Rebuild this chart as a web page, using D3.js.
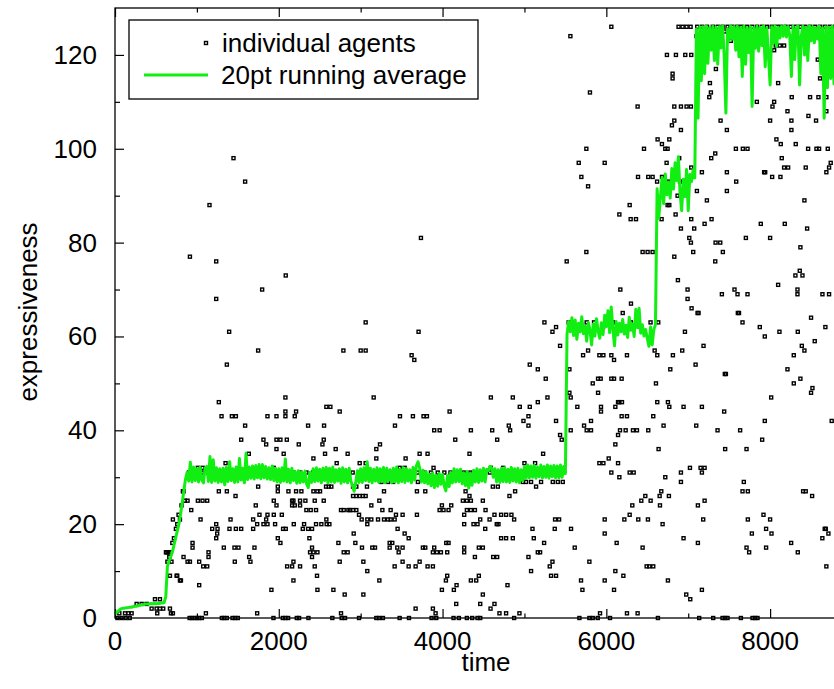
<!DOCTYPE html>
<html lang="en">
<head>
<meta charset="UTF-8">
<title>expressiveness over time</title>
<script src="https://d3js.org/d3.v7.min.js"></script>
<style>
    body { margin: 0; background: #fff; }
    text { font-family: "Liberation Sans", Arial, Helvetica, sans-serif; fill: #000; }
    .frame { fill: none; stroke: #000; stroke-width: 1.3; }
    .agent { fill: none; stroke: #000; stroke-width: 1.4; }
    .avg { fill: none; stroke: #11ee11; stroke-width: 3; stroke-linejoin: round; }
    .tick line { stroke: #000; stroke-width: 1.2; }
</style>
</head>
<body>
<svg id="chart" width="834" height="689"></svg>
<script>
// axis ticks
const xMajor = [0, 2000, 4000, 6000, 8000];
const xMinor = [1000, 3000, 5000, 7000, 9000];
const yMajor = [0, 20, 40, 60, 80, 100, 120];
const yMinor = [10, 30, 50, 70, 90, 110];

// 20pt running average, one value every avgStep time units starting at 0
const avgStep = 20;
const avgValues = [
    0.8, 1.2, 1.5, 1.8, 2.0, 2.1, 2.1, 2.2, 2.2, 2.3,
    2.3, 2.4, 2.5, 2.5, 2.6, 2.7, 2.8, 2.8, 2.9, 3.0,
    3.0, 3.0, 3.1, 3.0, 3.1, 3.0, 3.1, 3.1, 3.2, 3.2,
    3.3, 4.5, 11.0, 12.2, 13.0, 14.0, 15.5, 17.0, 18.5, 20.0,
    22.0, 24.5, 27.0, 29.5, 31.0, 29.2, 33.2, 29.0, 32.2, 29.3,
    31.8, 29.0, 32.1, 29.4, 28.8, 31.9, 32.3, 29.1, 34.4, 28.9,
    33.7, 29.2, 32.0, 28.9, 31.8, 29.0, 31.9, 28.4, 32.1, 29.1,
    33.3, 29.3, 31.8, 28.9, 32.2, 29.0, 34.0, 29.4, 31.9, 28.8,
    35.1, 29.5, 32.2, 29.8, 32.4, 29.6, 32.5, 29.9, 32.7, 29.7,
    32.7, 29.9, 32.3, 29.6, 32.0, 29.5, 32.4, 29.3, 31.9, 29.0,
    31.8, 28.9, 32.0, 29.2, 33.9, 29.0, 31.7, 28.8, 31.9, 29.3,
    31.2, 28.7, 31.4, 28.8, 31.1, 29.0, 31.3, 28.6, 27.8, 31.0,
    28.9, 31.8, 29.1, 32.0, 29.2, 31.7, 28.8, 31.9, 29.3, 32.1,
    28.8, 31.9, 29.0, 32.2, 28.9, 31.6, 29.2, 31.8, 28.7, 32.0,
    29.0, 31.7, 28.8, 31.9, 29.2, 28.2, 27.0, 29.0, 31.4, 28.9,
    31.8, 28.9, 32.0, 29.3, 33.3, 29.1, 31.9, 28.8, 31.7, 29.2,
    32.0, 28.9, 31.8, 29.1, 32.1, 28.8, 31.9, 29.3, 31.6, 28.9,
    31.9, 29.0, 32.2, 28.8, 31.7, 29.1, 32.0, 28.9, 31.8, 29.2,
    31.6, 28.8, 32.1, 29.4, 32.4, 33.3, 32.0, 29.0, 31.5, 28.8,
    31.2, 28.6, 30.6, 28.2, 30.9, 27.8, 30.4, 28.1, 30.8, 28.5,
    30.6, 28.2, 27.1, 30.3, 28.0, 31.0, 28.8, 31.8, 29.0, 31.6,
    29.1, 31.7, 28.6, 30.9, 28.2, 31.2, 27.7, 30.8, 28.3, 31.5,
    29.0, 31.8, 28.9, 31.6, 29.2, 31.9, 29.0, 31.7, 31.4, 32.3,
    32.0, 30.0, 31.8, 29.0, 31.6, 28.9, 31.9, 29.1, 32.0, 29.0,
    31.7, 28.9, 32.1, 29.2, 31.8, 29.0, 31.9, 28.8, 31.6, 29.3,
    32.3, 29.8, 32.6, 29.9, 32.4, 30.0, 32.5, 29.8, 32.2, 30.1,
    32.6, 29.9, 32.3, 30.0, 32.6, 29.8, 32.4, 30.1, 32.5, 29.9,
    32.4, 29.9, 32.6, 30.0, 32.3, 30.8, 60.5, 63.2, 61.0, 64.0,
    60.2, 63.5, 59.4, 62.8, 61.0, 64.2, 60.6, 62.2, 59.0, 63.0,
    61.4, 58.2, 62.6, 60.1, 63.8, 61.2, 59.6, 62.9, 60.4, 64.5,
    62.1, 65.5, 60.8, 66.3, 61.5, 58.0, 63.2, 60.3, 62.8, 61.0,
    63.6, 60.5, 62.4, 59.8, 64.1, 61.3, 62.7, 60.0, 65.8, 61.9,
    66.0, 60.7, 62.5, 60.1, 61.5, 59.6, 57.9, 62.0, 58.2, 61.5,
    62.5, 91.5, 85.2, 89.6, 93.8, 88.3, 94.6, 90.2, 92.8, 89.5,
    95.8, 91.4, 97.0, 93.2, 98.3, 90.6, 86.8, 93.5, 89.8, 95.6,
    86.8, 94.5, 93.0, 95.5, 93.8, 125.5, 106.5, 126.0, 114.5, 126.0,
    116.0, 126.2, 118.2, 125.8, 121.0, 126.1, 118.8, 125.9, 118.0, 126.0,
    121.5, 126.2, 119.5, 107.6, 125.6, 123.0, 126.2, 123.4, 126.0, 121.0,
    126.1, 119.6, 125.9, 115.4, 126.2, 118.0, 125.8, 120.5, 126.0, 109.0,
    125.8, 121.4, 126.1, 120.8, 125.9, 122.0, 126.2, 117.5, 125.8, 119.6,
    113.6, 126.0, 122.5, 126.2, 121.8, 125.9, 123.6, 126.1, 124.0, 126.2,
    123.8, 126.0, 124.2, 115.4, 126.1, 119.0, 125.8, 126.2, 113.6, 124.0,
    126.1, 120.0, 125.9, 118.8, 126.2, 123.0, 126.0, 122.6, 125.8, 123.4,
    126.1, 116.0, 125.8, 106.5, 126.0, 113.0, 125.9, 115.0, 126.1, 113.8,
    125.5
];

// individual agents: [time, expressiveness]
const agents = [
    // start and first plateau
    [30, 0], [80, 0], [130, 0], [180, 0],
    [53, 1], [122, 1], [163, 1], [203, 1], [264, 3], [325, 3], [386, 3],
    [447, 2], [508, 2], [549, 2], [589, 2], [488, 4], [549, 4], [671, 2], [683, 1],
    [630, 14], [650, 14], [670, 14], [640, 12], [690, 12], [671, 9], [752, 9], [793, 8],
    [700, 16], [720, 17], [744, 19], [760, 20], [793, 21], [776, 22], [812, 24], [829, 27],
    [1447, 98], [1589, 93], [1154, 88], [915, 77], [1236, 76], [2085, 73], [1797, 70], [1236, 68],
    [1394, 61], [1748, 57], [2789, 57], [1366, 54], [2081, 47], [1268, 46],
    [1301, 43], [1427, 43], [1476, 43], [1862, 43], [1972, 43], [2081, 44], [2081, 43],
    [2211, 44], [2195, 43], [2581, 45], [2630, 45], [2744, 44],
    [1589, 41], [2358, 41], [2553, 41],
    [1541, 38], [1813, 38], [1972, 38], [2020, 38], [2098, 38], [2549, 38],
    [1846, 37], [2244, 37], [2533, 37], [1972, 36], [2695, 36],
    [1634, 35], [2060, 35], [2565, 35], [2841, 35],
    [1350, 33], [2423, 34], [2707, 33], [1012, 32], [1069, 32], [1939, 32],
    [1268, 27], [1366, 27], [1472, 26], [1748, 28], [1988, 28], [1988, 27], [2118, 27],
    [2211, 27], [2276, 27], [2423, 27], [2472, 27], [2504, 27], [2577, 28], [2610, 28], [2642, 28],
    [837, 27], [854, 25], [886, 25], [1012, 25], [1069, 25], [1126, 25],
    [1939, 25], [2163, 25], [2179, 25], [2260, 25], [2325, 25], [2439, 25], [2549, 25],
    [2163, 24], [2195, 24], [2260, 24], [1719, 24], [1972, 24],
    [2337, 23], [2390, 23], [2455, 23], [2760, 23], [2793, 23], [2850, 23], [931, 23],
    [707, 21], [1045, 21], [1764, 22], [1862, 22], [1939, 22], [2037, 22],
    [1411, 21], [1687, 21], [1846, 21], [2581, 21],
    [1187, 19], [1236, 20], [1252, 19], [1398, 19], [1476, 19], [1541, 19],
    [1687, 19], [1736, 20], [1813, 20], [1862, 20], [1955, 20], [2053, 19], [2085, 19],
    [2183, 20], [2293, 19], [2309, 20], [2358, 19], [2406, 19], [2455, 20], [2520, 20], [2585, 20], [2618, 20],
    [1248, 18], [1236, 17], [1988, 17], [2020, 16], [2374, 17], [2728, 16],
    [947, 16], [947, 15], [1329, 15], [1459, 15], [1508, 15], [1703, 15],
    [2406, 15], [2423, 14], [2472, 14], [2382, 14], [2793, 14], [2841, 14],
    [1142, 14], [1142, 13], [622, 14], [663, 13],
    [837, 13], [886, 12], [915, 12], [1028, 12], [1077, 11], [1126, 11], [1463, 12], [1638, 13],
    [1654, 12], [2179, 12], [2102, 11], [2163, 11], [2260, 11], [2406, 13], [2439, 11], [2744, 12],
    [760, 9], [805, 8], [2467, 9], [2179, 8], [1028, 7], [1910, 6], [2472, 6], [2667, 6], [2805, 5],
    [516, 1], [707, 1], [1736, 1], [2760, 1], [1110, 1],
    // zero row
    [911, 0], [939, 0], [972, 0], [1000, 0], [1028, 0], [1061, 0], [1305, 0], [1333, 0], [1366, 0],
    [1435, 0], [1467, 0], [1500, 0], [1935, 0], [2049, 0], [2081, 0], [2114, 0], [2220, 0], [2248, 0],
    [2362, 0], [2654, 0], [2768, 0], [2809, 0], [2980, 0], [3191, 0], [3224, 0], [3272, 0], [3476, 0],
    [3590, 0], [3866, 0], [3923, 0], [4134, 0], [4199, 0], [4297, 0], [4362, 0], [4427, 0], [4460, 0],
    [4874, 0], [5671, 0], [5793, 0], [5834, 0], [5895, 0], [6045, 0], [6630, 0], [7134, 0], [7305, 0],
    [7419, 0], [7451, 0], [7480, 0], [7643, 0], [7785, 0], [7817, 0], [7846, 0],
    // dense row along the first plateau
    [903, 31], [978, 31], [1061, 31], [1137, 31], [1224, 31], [1296, 31], [1381, 31], [1458, 31],
    [1543, 31], [1617, 31], [1702, 31], [1779, 31], [1864, 31], [1938, 31], [2021, 31], [2097, 31],
    [2183, 31], [2262, 31], [2338, 31], [2419, 31], [2503, 31], [2577, 31], [2662, 31], [2741, 31],
    [2818, 31], [2902, 31], [2979, 31], [3063, 31], [3138, 31], [3221, 31], [3302, 31], [3378, 31],
    [3461, 31], [3537, 31], [3622, 31], [3698, 31], [3783, 31], [3858, 31], [3941, 31], [4022, 31],
    [4097, 31], [4183, 31], [4258, 31], [4341, 31], [4417, 31], [4502, 31], [4578, 31], [4663, 31],
    [4738, 31], [4821, 31], [4902, 31], [4977, 31], [5062, 31], [5138, 31], [5221, 31], [5302, 31],
    [5377, 31], [5462, 31],
    [2907, 28], [2947, 28], [3252, 29], [3334, 29], [3395, 29], [3699, 29], [4614, 28], [4675, 28],
    [4817, 26], [4886, 27], [4980, 29], [5020, 29], [5081, 29], [5142, 28], [5203, 29], [5346, 29],
    [5407, 29], [5468, 29], [2988, 33], [3476, 32], [3537, 32], [3890, 32], [4590, 32], [4740, 32],
    [5000, 33], [5130, 33],
    // middle of the run
    [3061, 63], [3707, 61], [3000, 57], [3061, 57], [3622, 56], [3655, 55], [3159, 47], [4086, 44],
    [3480, 43], [3638, 43], [3768, 43], [3809, 43], [3419, 41], [3898, 40], [3964, 40], [4346, 40],
    [4606, 40], [4155, 38], [4667, 38], [3236, 37], [3191, 36], [3191, 34], [3720, 35], [3817, 35],
    [4329, 35], [5228, 35], [3061, 33], [3549, 34], [4590, 47], [4858, 47], [4943, 45], [5065, 45],
    [5163, 46], [5281, 47], [4988, 42], [5049, 43], [4809, 41], [4825, 40], [5049, 41], [5065, 54],
    [5163, 53], [5260, 51], [5244, 63], [5342, 61], [5386, 62], [5435, 58], [5386, 42], [5435, 39],
    [5455, 38], [5549, 53], [5549, 48], [5565, 47], [5646, 45], [5728, 41], [5565, 40], [5760, 40],
    [5716, 56], [5777, 57], [3736, 81], [5516, 76], [5756, 78], [5561, 124], [5663, 97], [5756, 100],
    [5695, 94], [5777, 92], [5800, 112],
    [2907, 26], [2947, 26], [2988, 26], [3028, 26], [3061, 26], [3285, 27], [3077, 28], [3130, 24],
    [3228, 25], [2870, 23], [2907, 23], [2947, 23], [2980, 22], [3012, 21], [3081, 21], [3130, 21],
    [3212, 21], [3285, 21], [3334, 21], [3366, 21], [3415, 21], [3081, 20], [3265, 23], [3366, 23],
    [3431, 22], [3512, 22], [3687, 22], [3687, 27], [3789, 27], [3992, 24], [4106, 24], [3964, 23],
    [4012, 23], [4073, 23], [4281, 27], [4329, 26], [4248, 25], [4297, 25], [4346, 25], [4492, 25],
    [4297, 23], [4346, 23], [4395, 23], [4264, 22], [4460, 21], [4574, 21], [4525, 23], [4634, 22],
    [4715, 22], [4776, 22], [4841, 22], [4874, 21], [4264, 20], [4378, 20], [4427, 20], [4662, 20],
    [4683, 20], [3451, 19], [3537, 18], [3586, 17], [4521, 19], [4715, 17], [4776, 17], [4858, 17],
    [5098, 19], [5114, 17], [5374, 21], [5423, 21], [5370, 19], [5569, 19], [5240, 16], [5614, 15],
    [2915, 18], [2935, 16], [3016, 15], [3142, 15], [3175, 15], [3354, 16], [3386, 16], [3354, 15],
    [3447, 15], [3464, 14], [3512, 15], [3760, 15], [3789, 15], [3898, 15], [3931, 14], [3882, 14],
    [3980, 14], [4045, 16], [4073, 16], [4057, 14], [4264, 15], [4264, 14], [4443, 15], [4492, 15],
    [4395, 13], [4618, 13], [4667, 13], [5049, 13], [5163, 14], [5191, 14], [3033, 12], [3081, 10],
    [3415, 11], [3512, 12], [3586, 11], [3671, 11], [3720, 12], [3817, 11], [3882, 11], [5081, 10],
    [5309, 11], [5342, 12], [5325, 9], [5386, 9], [3228, 8], [4057, 9], [4041, 8], [4171, 7],
    [4346, 8], [4411, 8], [4443, 9], [4793, 7], [3033, 5], [3992, 6], [4138, 6], [4492, 5],
    [4167, 3], [4460, 3], [4634, 3], [3671, 2], [3882, 2], [3915, 1], [4586, 2], [4695, 1],
    [4776, 1], [4939, 1], [5691, 8], [5708, 6], [5793, 12],
    // second and third plateaus
    [5540, 63], [5600, 63], [5680, 62], [5760, 63], [5850, 63], [5960, 62], [6080, 63], [6180, 62],
    [6300, 63], [6420, 62], [6540, 63], [6620, 93], [6680, 94], [6760, 93], [6900, 93], [7000, 94],
    [7606, 65], [7126, 65], [7663, 63], [8500, 64], [8675, 62], [7874, 62], [7935, 60], [8114, 61],
    [8338, 61], [8545, 59], [6960, 61], [6634, 63], [7187, 58], [6927, 57], [6590, 57], [6622, 56],
    [6813, 56], [8387, 58], [8419, 57], [8289, 56], [7090, 54], [6781, 53], [7447, 52], [7460, 52],
    [8212, 53], [5915, 56], [5964, 56], [6061, 56], [6094, 55], [6252, 56], [5899, 51], [5931, 51],
    [6061, 51], [6094, 51], [6187, 51], [5834, 50], [5899, 48], [6606, 50], [8289, 50], [8370, 51],
    [8517, 49], [8500, 48], [8013, 47], [5935, 45], [5935, 44], [6110, 45], [6143, 46], [6159, 46],
    [6191, 46], [6622, 46], [6752, 46], [6769, 45], [6943, 45], [7167, 45], [7439, 44], [6187, 43],
    [6252, 43], [6573, 43], [7935, 42], [8752, 42], [5813, 42], [5813, 40], [6167, 40], [6236, 40],
    [6325, 40], [6374, 40], [6512, 40], [6699, 41], [7098, 41], [7358, 40], [7634, 40], [6143, 39],
    [6110, 37], [7903, 38], [6638, 36], [7451, 36], [7712, 36], [5915, 33], [5964, 33], [6029, 34],
    [6143, 33], [6061, 31], [6159, 30], [6285, 31], [6334, 31], [6720, 30], [6911, 31], [6911, 29],
    [7021, 32], [7151, 32], [7200, 32], [7167, 31], [7679, 29], [7663, 27], [7728, 27], [8403, 27],
    [8435, 27], [8513, 26], [6476, 26], [6427, 25], [6541, 25], [6651, 26], [6671, 27], [6764, 26],
    [6317, 24], [6655, 24], [7118, 24], [7200, 25], [6285, 22], [5980, 21], [6220, 21], [6390, 21],
    [6508, 21], [6687, 20], [7183, 21], [7919, 22], [7728, 21], [8000, 21], [7951, 19], [8017, 18],
    [7777, 18], [5980, 18], [6126, 16], [6443, 15], [6943, 17], [7118, 16], [7712, 15], [7744, 14],
    [7951, 15], [8257, 16], [8338, 14], [8638, 17], [8667, 19], [8680, 19], [8712, 18], [8687, 11],
    [6110, 10], [6208, 9], [6492, 11], [6525, 11], [6573, 11], [5980, 8], [6094, 6], [6752, 8],
    [6976, 5], [7025, 4], [7167, 6], [5923, 1], [6252, 1], [6382, 1],
    // top plateau
    [6061, 126], [6882, 126], [6931, 126], [6980, 126], [7029, 126],
    [7110, 126], [7170, 126], [7230, 126], [7300, 126], [7360, 126], [7420, 126], [7480, 126],
    [7540, 126], [7600, 126], [7650, 126], [7720, 126], [7780, 126], [7840, 126], [7900, 126],
    [7960, 126], [8020, 126], [8080, 126], [8130, 126], [8190, 126], [8250, 126], [8310, 126],
    [8370, 126], [8430, 126], [8490, 126], [8550, 126], [8610, 126], [8670, 126], [8730, 126], [8790, 126],
    [7447, 125], [7516, 124], [7520, 123], [7102, 124],
    [6740, 120], [6850, 120], [6964, 120], [7037, 120], [7338, 117], [6809, 116], [6809, 115],
    [8049, 121], [8069, 122], [8118, 122], [8171, 122], [8582, 119], [8610, 115], [7265, 114],
    [8098, 114], [7277, 112], [7257, 111], [6382, 109], [6830, 109], [6911, 109], [6980, 109],
    [7033, 109], [7838, 110], [8049, 110], [8029, 109], [8264, 111], [8488, 111], [8590, 111],
    [8687, 111], [8212, 108], [8468, 107], [8687, 108], [8561, 106], [8260, 106], [8260, 104],
    [8000, 106], [7395, 106], [6830, 106], [6801, 105], [6911, 104], [7472, 104], [6626, 102],
    [6769, 102], [6679, 101], [6720, 100], [6748, 100], [6460, 100], [7582, 100], [7667, 100],
    [7724, 100], [8077, 102], [8130, 101], [8313, 101], [8464, 100], [8566, 100], [8598, 100],
    [8704, 100], [5980, 97], [6736, 97], [6890, 98], [7281, 98], [7330, 99], [8142, 98],
    [7037, 96], [7167, 95], [7472, 95], [7927, 95], [7940, 95], [8171, 96], [8220, 96], [8435, 96],
    [8687, 95], [8720, 96], [8740, 97], [6387, 94], [6512, 94], [6565, 94], [8025, 94], [8126, 94],
    [7586, 93], [7472, 91], [7106, 91], [6870, 90], [7228, 89], [8419, 89], [6748, 88], [6769, 88],
    [6285, 88], [6159, 86], [6297, 85], [6362, 85], [6675, 85], [6846, 86], [7037, 85], [6911, 83],
    [7073, 83], [7200, 84], [7285, 85], [7886, 84], [8179, 84], [8452, 83], [7013, 81], [7033, 80],
    [7704, 81], [8000, 81], [6443, 78], [6504, 78], [6565, 78], [6830, 77], [7061, 78], [7334, 80],
    [7391, 80], [7423, 78], [7330, 76], [8370, 79], [6874, 72], [8362, 74], [8309, 73], [8395, 73],
    [8098, 71], [8334, 70], [8334, 69], [8639, 69], [8720, 69], [6171, 70], [6992, 70], [6992, 68],
    [7411, 69], [7565, 70], [7602, 69], [7724, 69], [6301, 67], [6200, 65], [7041, 66], [7114, 65],
    [7620, 65]
];

const svg = d3.select("#chart");
const margin = {top: 8, left: 115, bottom: 71};
const plotH = 689 - margin.top - margin.bottom;

// x runs past the right edge of the picture, as in the original
const x = d3.scaleLinear().domain([0, 9000]).range([margin.left, 852]);
const y = d3.scaleLinear().domain([0, 130]).range([margin.top + plotH, margin.top]);

// ticks, all pointing into the plot
function ticks(axis, values, size, pos) {
    svg.append("g").attr("transform", pos)
        .call(axis.tickValues(values).tickSize(size).tickFormat(""))
        .call(g => g.select(".domain").remove());
}
ticks(d3.axisBottom(x), xMajor, -9, `translate(0,${y(0)})`);
ticks(d3.axisBottom(x), xMinor, -4.5, `translate(0,${y(0)})`);
ticks(d3.axisTop(x), xMajor, -9, `translate(0,${y(130)})`);
ticks(d3.axisTop(x), xMinor, -4.5, `translate(0,${y(130)})`);
ticks(d3.axisLeft(y), yMajor, -9, `translate(${x(0)},0)`);
ticks(d3.axisLeft(y), yMinor, -5, `translate(${x(0)},0)`);

svg.append("g").selectAll("text").data(xMajor).join("text")
    .attr("x", d => x(d)).attr("y", 650)
    .attr("text-anchor", "middle").attr("font-size", 26)
    .text(d => d);
svg.append("g").selectAll("text").data(yMajor).join("text")
    .attr("x", 97).attr("y", d => y(d) + 9)
    .attr("text-anchor", "end").attr("font-size", 26)
    .text(d => d);

svg.append("text").attr("x", 486).attr("y", 671)
    .attr("text-anchor", "middle").attr("font-size", 26).text("time");
svg.append("text").attr("transform", "translate(37,312) rotate(-90)")
    .attr("text-anchor", "middle").attr("font-size", 26).text("expressiveness");

// agents
svg.append("g").selectAll("rect").data(agents).join("rect")
    .attr("class", "agent")
    .attr("x", d => x(d[0]) - 1.5).attr("y", d => y(d[1]) - 1.5)
    .attr("width", 3).attr("height", 3);

// running average
const line = d3.line().x((d, i) => x(i * avgStep)).y(d => y(d));
svg.append("path").datum(avgValues).attr("class", "avg").attr("d", line);

// frame
svg.append("rect").attr("class", "frame")
    .attr("x", x(0)).attr("y", y(130))
    .attr("width", x(9000) - x(0)).attr("height", y(0) - y(130));

// legend
const lg = svg.append("g");
lg.append("rect").attr("class", "frame").style("fill", "#fff")
    .attr("x", 129).attr("y", 20).attr("width", 349).attr("height", 79);
lg.append("rect").attr("class", "agent").attr("x", 204.5).attr("y", 41.5).attr("width", 3).attr("height", 3);
lg.append("text").attr("x", 222).attr("y", 52).attr("font-size", 26).text("individual agents");
lg.append("line").attr("class", "avg").attr("x1", 144).attr("x2", 208).attr("y1", 75).attr("y2", 75);
lg.append("text").attr("x", 221).attr("y", 84).attr("font-size", 26).text("20pt running average");
</script>
</body>
</html>
